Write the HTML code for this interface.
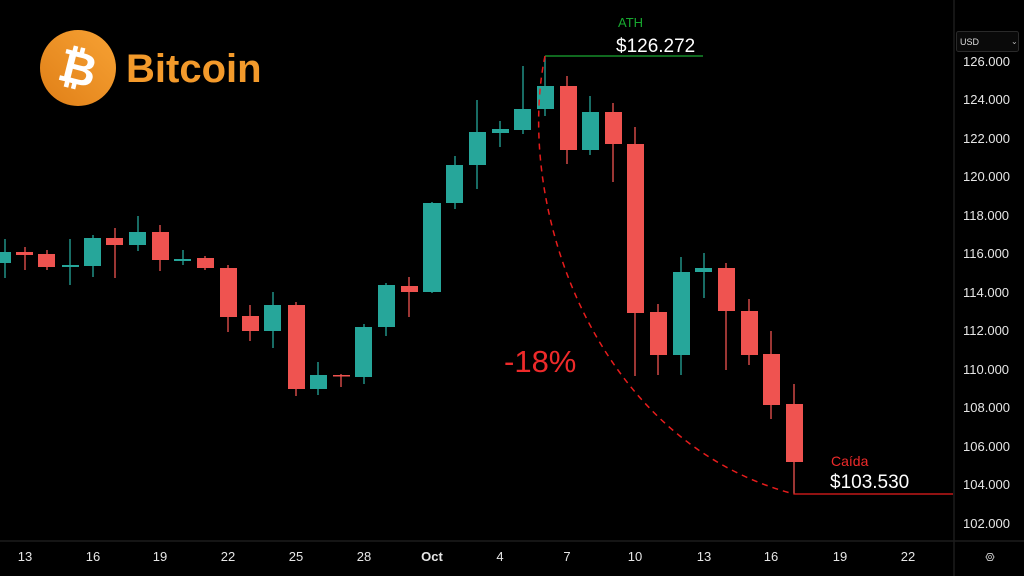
<!DOCTYPE html>
<html><head><meta charset="utf-8"><style>
html,body{margin:0;padding:0;background:#000;}
svg{display:block;}
text{font-family:"Liberation Sans","DejaVu Sans",sans-serif;}
</style></head><body>
<svg width="1024" height="576" viewBox="0 0 1024 576" xmlns="http://www.w3.org/2000/svg">
<rect width="1024" height="576" fill="#000"/>
<defs>
<linearGradient id="og" x1="0" y1="1" x2="1" y2="0">
<stop offset="0" stop-color="#e07f17"/><stop offset="1" stop-color="#f7a234"/>
</linearGradient>
</defs>
<line x1="954" y1="0" x2="954" y2="576" stroke="#1c1c1c" stroke-width="1.5"/>
<line x1="0" y1="541" x2="1024" y2="541" stroke="#1c1c1c" stroke-width="1.5"/>

<circle cx="78" cy="68" r="38" fill="url(#og)"/>
<text x="78" y="84" font-size="46" font-weight="bold" fill="#fff" text-anchor="middle" transform="rotate(14 78 68)">₿</text>
<text x="126" y="82" font-size="40" fill="#f39a2b" font-weight="bold">Bitcoin</text>

<g stroke-width="1.3">
<g stroke="#26a69a">
<line x1="5" y1="239" x2="5" y2="278"/>
<line x1="70" y1="239" x2="70" y2="285"/>
<line x1="93" y1="235" x2="93" y2="277"/>
<line x1="138" y1="216" x2="138" y2="251"/>
<line x1="183" y1="250" x2="183" y2="265"/>
<line x1="273" y1="292" x2="273" y2="348"/>
<line x1="318" y1="362" x2="318" y2="395"/>
<line x1="364" y1="324" x2="364" y2="384"/>
<line x1="386" y1="283" x2="386" y2="336"/>
<line x1="432" y1="202" x2="432" y2="293"/>
<line x1="455" y1="156" x2="455" y2="209"/>
<line x1="477" y1="100" x2="477" y2="189"/>
<line x1="500" y1="121" x2="500" y2="147"/>
<line x1="523" y1="66" x2="523" y2="134"/>
<line x1="545" y1="56" x2="545" y2="116"/>
<line x1="590" y1="96" x2="590" y2="155"/>
<line x1="681" y1="257" x2="681" y2="375"/>
<line x1="704" y1="253" x2="704" y2="298"/>
</g>
<g stroke="#ef5350">
<line x1="25" y1="247" x2="25" y2="270"/>
<line x1="47" y1="250" x2="47" y2="270"/>
<line x1="115" y1="228" x2="115" y2="278"/>
<line x1="160" y1="225" x2="160" y2="271"/>
<line x1="205" y1="256" x2="205" y2="270"/>
<line x1="228" y1="265" x2="228" y2="332"/>
<line x1="250" y1="305" x2="250" y2="341"/>
<line x1="296" y1="302" x2="296" y2="396"/>
<line x1="341" y1="374" x2="341" y2="387"/>
<line x1="409" y1="277" x2="409" y2="317"/>
<line x1="567" y1="76" x2="567" y2="164"/>
<line x1="613" y1="103" x2="613" y2="182"/>
<line x1="635" y1="127" x2="635" y2="376"/>
<line x1="658" y1="304" x2="658" y2="375"/>
<line x1="726" y1="263" x2="726" y2="370"/>
<line x1="749" y1="299" x2="749" y2="365"/>
<line x1="771" y1="331" x2="771" y2="419"/>
<line x1="794" y1="384" x2="794" y2="494"/>
</g>
</g>
<g fill="#26a69a">
<rect x="-4" y="252" width="15" height="11"/>
<rect x="62" y="265" width="17" height="2"/>
<rect x="84" y="238" width="17" height="28"/>
<rect x="129" y="232" width="17" height="13"/>
<rect x="174" y="259" width="17" height="2"/>
<rect x="264" y="305" width="17" height="26"/>
<rect x="310" y="375" width="17" height="14"/>
<rect x="355" y="327" width="17" height="50"/>
<rect x="378" y="285" width="17" height="42"/>
<rect x="423" y="203" width="18" height="89"/>
<rect x="446" y="165" width="17" height="38"/>
<rect x="469" y="132" width="17" height="33"/>
<rect x="492" y="129" width="17" height="4"/>
<rect x="514" y="109" width="17" height="21"/>
<rect x="537" y="86" width="17" height="23"/>
<rect x="582" y="112" width="17" height="38"/>
<rect x="673" y="272" width="17" height="83"/>
<rect x="695" y="268" width="17" height="4"/>
</g>
<g fill="#ef5350">
<rect x="16" y="252" width="17" height="3"/>
<rect x="38" y="254" width="17" height="13"/>
<rect x="106" y="238" width="17" height="7"/>
<rect x="152" y="232" width="17" height="28"/>
<rect x="197" y="258" width="17" height="10"/>
<rect x="220" y="268" width="17" height="49"/>
<rect x="242" y="316" width="17" height="15"/>
<rect x="288" y="305" width="17" height="84"/>
<rect x="333" y="375" width="17" height="1.5"/>
<rect x="401" y="286" width="17" height="6"/>
<rect x="560" y="86" width="17" height="64"/>
<rect x="605" y="112" width="17" height="32"/>
<rect x="627" y="144" width="17" height="169"/>
<rect x="650" y="312" width="17" height="43"/>
<rect x="718" y="268" width="17" height="43"/>
<rect x="741" y="311" width="17" height="44"/>
<rect x="763" y="354" width="17" height="51"/>
<rect x="786" y="404" width="17" height="58"/>
</g>

<line x1="545" y1="56" x2="703" y2="56" stroke="#1aa832" stroke-width="1.3"/>
<line x1="794" y1="494" x2="953" y2="494" stroke="#e81c1c" stroke-width="1.3"/>
<path d="M545,56 C515,200 590,440 794,494" fill="none" stroke="#e81c1c" stroke-width="1.5" stroke-dasharray="6,5"/>
<text x="618" y="27" font-size="13" fill="#17a82f">ATH</text>
<text x="616" y="52" font-size="19" fill="#fff">$126.272</text>
<text x="504" y="372" font-size="31" fill="#ee2a2a">-18%</text>
<text x="831" y="466" font-size="14" fill="#ee2a2a">Caída</text>
<text x="830" y="488" font-size="19" fill="#fff">$103.530</text>

<rect x="956.5" y="31.5" width="62" height="20" rx="2" fill="#0a0a0a" stroke="#2a2a2a"/>
<text x="960" y="45" font-size="9" fill="#ddd">USD</text>
<text x="1011" y="44" font-size="8" fill="#bbb">⌄</text>
<g font-size="13" fill="#e6e6e6">
<text x="963" y="66">126.000</text>
<text x="963" y="104">124.000</text>
<text x="963" y="143">122.000</text>
<text x="963" y="181">120.000</text>
<text x="963" y="220">118.000</text>
<text x="963" y="258">116.000</text>
<text x="963" y="297">114.000</text>
<text x="963" y="335">112.000</text>
<text x="963" y="374">110.000</text>
<text x="963" y="412">108.000</text>
<text x="963" y="451">106.000</text>
<text x="963" y="489">104.000</text>
<text x="963" y="528">102.000</text>
</g>
<g font-size="13" fill="#e6e6e6" text-anchor="middle">
<text x="25" y="561">13</text>
<text x="93" y="561">16</text>
<text x="160" y="561">19</text>
<text x="228" y="561">22</text>
<text x="296" y="561">25</text>
<text x="364" y="561">28</text>
<text x="432" y="561" font-weight="bold">Oct</text>
<text x="500" y="561">4</text>
<text x="567" y="561">7</text>
<text x="635" y="561">10</text>
<text x="704" y="561">13</text>
<text x="771" y="561">16</text>
<text x="840" y="561">19</text>
<text x="908" y="561">22</text>
</g>
<polygon points="986,557 988,553.5 992,553.5 994,557 992,560.5 988,560.5" fill="none" stroke="#bbb" stroke-width="1"/>
<circle cx="990" cy="557" r="1.5" fill="none" stroke="#bbb" stroke-width="0.8"/>
</svg>
</body></html>
